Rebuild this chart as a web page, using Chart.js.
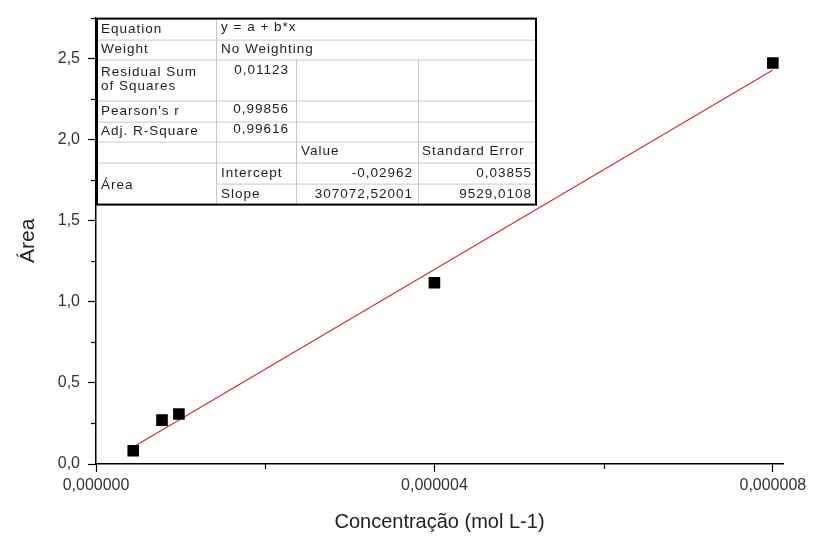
<!DOCTYPE html>
<html>
<head>
<meta charset="utf-8">
<script src="https://cdn.jsdelivr.net/npm/chart.js@4.4.1/dist/chart.umd.min.js"></script>
<style>
  html, body { margin: 0; padding: 0; background: #ffffff; }
  #wrap { width: 822px; height: 536px; }
</style>
</head>
<body>
<div id="wrap"><canvas id="c" width="822" height="536"></canvas></div>
<script>
// ---- data ----
const concentration = [4.4e-7, 7.8e-7, 9.8e-7, 4.0e-6, 8.0e-6];
const area = [0.082, 0.270, 0.308, 1.117, 2.470];
const fitX = [4.4e-7, 8.0e-6];
const fitY = [0.105, 2.427];
const xTickValues = [0, 2e-6, 4e-6, 6e-6, 8e-6];
const xTickLabels = ['0,000000', '', '0,000004', '', '0,000008'];
const yTickValues = [0, 0.25, 0.5, 0.75, 1, 1.25, 1.5, 1.75, 2, 2.25, 2.5, 2.75];
const yTickLabels = ['0,0', '', '0,5', '', '1,0', '', '1,5', '', '2,0', '', '2,5', ''];
const xTitle = 'Concentração (mol L-1)';
const yTitle = 'Área';

// table text
const tEquation = ['Equation', 'y = a + b*x'];
const tWeight = ['Weight', 'No Weighting'];
const tResidual = ['Residual Sum', 'of Squares', '0,01123'];
const tPearson = ["Pearson's r", '0,99856'];
const tAdj = ['Adj. R-Square', '0,99616'];
const tHeader = ['Value', 'Standard Error'];
const tRowName = 'Área';
const tIntercept = ['Intercept', '-0,02962', '0,03855'];
const tSlope = ['Slope', '307072,52001', '9529,0108'];

const FONT = "'Liberation Sans', Arial, sans-serif";

const minorTicks = {
  id: 'minorTicks',
  afterDatasetsDraw(chart) {
    const ctx = chart.ctx;
    const xs = chart.scales.x, ys = chart.scales.y;
    ctx.save();
    ctx.strokeStyle = '#000';
    ctx.lineWidth = 1.2;
    xTickValues.forEach((v, i) => {
      if (xTickLabels[i] !== '') return;
      const px = Math.round(xs.getPixelForValue(v)) + 0.5;
      ctx.beginPath(); ctx.moveTo(px, xs.top); ctx.lineTo(px, xs.top + 5); ctx.stroke();
    });
    yTickValues.forEach((v, i) => {
      if (yTickLabels[i] !== '') return;
      const py = Math.round(ys.getPixelForValue(v)) + 0.5;
      ctx.beginPath(); ctx.moveTo(ys.right, py); ctx.lineTo(ys.right - 5, py); ctx.stroke();
    });
    ctx.restore();
  }
};

const fitTable = {
  id: 'fitTable',
  afterDraw(chart) {
    const ctx = chart.ctx;
    const area0 = chart.chartArea;
    const cx = [area0.left, area0.left + 120, area0.left + 200, area0.left + 322, area0.left + 441];
    const ry = [area0.top, area0.top + 22, area0.top + 42, area0.top + 83, area0.top + 104,
                area0.top + 124, area0.top + 145, area0.top + 166, area0.top + 188];
    ctx.save();
    ctx.fillStyle = '#ffffff';
    ctx.fillRect(cx[0], ry[0], cx[4] - cx[0], ry[8] - ry[0]);
    // inner lines
    ctx.strokeStyle = '#c8c8c8';
    ctx.lineWidth = 1;
    const hl = (y, x0, x1) => { ctx.beginPath(); ctx.moveTo(x0, y + 0.5); ctx.lineTo(x1, y + 0.5); ctx.stroke(); };
    const vl = (x, y0, y1) => { ctx.beginPath(); ctx.moveTo(x + 0.5, y0); ctx.lineTo(x + 0.5, y1); ctx.stroke(); };
    for (let i = 1; i <= 6; i++) hl(ry[i], cx[0], cx[4]);
    hl(ry[7], cx[1], cx[4]);
    vl(cx[1], ry[0], ry[8]);
    vl(cx[2], ry[2], ry[8]);
    vl(cx[3], ry[2], ry[8]);
    // outer border
    ctx.strokeStyle = '#000';
    ctx.lineWidth = 2;
    ctx.strokeRect(cx[0] + 1, ry[0] + 1, cx[4] - cx[0] - 2, ry[8] - ry[0] - 2);
    // text
    ctx.fillStyle = '#1e1e1e';
    ctx.font = '13.5px ' + FONT;
    const SP = 1.0;
    if ('letterSpacing' in ctx) ctx.letterSpacing = SP + 'px';
    ctx.textBaseline = 'middle';
    const L = (t, x, y) => { ctx.textAlign = 'left'; ctx.fillText(t, x, y); };
    const R = (t, x, y) => { ctx.textAlign = 'right'; ctx.fillText(t, x + SP, y); };
    const mid = (a, b) => (ry[a] + ry[b]) / 2;
    L(tEquation[0], cx[0] + 5, mid(0, 1) + 1); L(tEquation[1], cx[1] + 5, mid(0, 1) - 1);
    L(tWeight[0], cx[0] + 5, mid(1, 2)); L(tWeight[1], cx[1] + 5, mid(1, 2));
    L(tResidual[0], cx[0] + 5, ry[2] + 13); L(tResidual[1], cx[0] + 5, ry[2] + 27);
    R(tResidual[2], cx[2] - 8, ry[2] + 11);
    L(tPearson[0], cx[0] + 5, mid(3, 4)); R(tPearson[1], cx[2] - 8, mid(3, 4) - 2);
    L(tAdj[0], cx[0] + 5, mid(4, 5)); R(tAdj[1], cx[2] - 8, mid(4, 5) - 2);
    L(tHeader[0], cx[2] + 5, mid(5, 6) - 1); L(tHeader[1], cx[3] + 4, mid(5, 6) - 1);
    L(tRowName, cx[0] + 5, mid(6, 8) + 1);
    L(tIntercept[0], cx[1] + 5, mid(6, 7)); R(tIntercept[1], cx[3] - 6, mid(6, 7)); R(tIntercept[2], cx[4] - 6, mid(6, 7));
    L(tSlope[0], cx[1] + 5, mid(7, 8)); R(tSlope[1], cx[3] - 6, mid(7, 8)); R(tSlope[2], cx[4] - 6, mid(7, 8));
    ctx.restore();
  }
};

new Chart(document.getElementById('c'), {
  type: 'scatter',
  data: {
    datasets: [
      {
        label: 'Área',
        data: concentration.map((x, i) => ({ x: x, y: area[i] })),
        pointStyle: 'rect',
        pointRadius: 8.2,
        pointHoverRadius: 8.2,
        backgroundColor: '#000',
        borderColor: '#000',
        borderWidth: 0,
        order: 0
      },
      {
        label: 'Fit',
        data: fitX.map((x, i) => ({ x: x, y: fitY[i] })),
        showLine: true,
        borderColor: '#d42a3c',
        borderWidth: 1.2,
        pointRadius: 0,
        fill: false,
        order: 1
      }
    ]
  },
  options: {
    responsive: false,
    animation: false,
    events: [],
    layout: { padding: { left: 0, top: 15, right: 39, bottom: 0 } },
    plugins: { legend: { display: false }, tooltip: { enabled: false } },
    scales: {
      x: {
        type: 'linear',
        min: 0,
        max: 8.12e-6,
        afterBuildTicks: (s) => { s.ticks = xTickValues.map(v => ({ value: v })); },
        afterFit: (s) => { s.height = 72; },
        ticks: {
          autoSkip: false,
          maxRotation: 0,
          padding: 4,
          color: '#333',
          font: { family: FONT, size: 16 },
          callback: (v, i) => xTickLabels[i]
        },
        grid: {
          drawOnChartArea: false,
          drawTicks: true,
          tickLength: 8,
          tickWidth: 1.2,
          tickColor: (c) => (c.tick && xTickLabels[xTickValues.indexOf(c.tick.value)] !== '') ? '#000' : 'rgba(0,0,0,0)'
        },
        border: { display: true, color: '#000', width: 1.5 },
        title: {
          display: true,
          text: xTitle,
          color: '#222',
          font: { family: FONT, size: 20 },
          padding: { top: 0, bottom: 2 }
        }
      },
      y: {
        type: 'linear',
        min: 0,
        max: 2.75,
        afterBuildTicks: (s) => { s.ticks = yTickValues.map(v => ({ value: v })); },
        afterFit: (s) => { s.width = 96; },
        ticks: {
          autoSkip: false,
          padding: 8,
          color: '#333',
          font: { family: FONT, size: 16 },
          callback: (v, i) => yTickLabels[i]
        },
        grid: {
          drawOnChartArea: false,
          drawTicks: true,
          tickLength: 8,
          tickWidth: 1.2,
          tickColor: (c) => (c.tick && yTickLabels[yTickValues.indexOf(c.tick.value)] !== '') ? '#000' : 'rgba(0,0,0,0)'
        },
        border: { display: true, color: '#000', width: 1.5 },
        title: {
          display: true,
          text: yTitle,
          color: '#222',
          font: { family: FONT, size: 21 },
          padding: { top: 16, bottom: 0 }
        }
      }
    }
  },
  plugins: [minorTicks, fitTable]
});
</script>
</body>
</html>
